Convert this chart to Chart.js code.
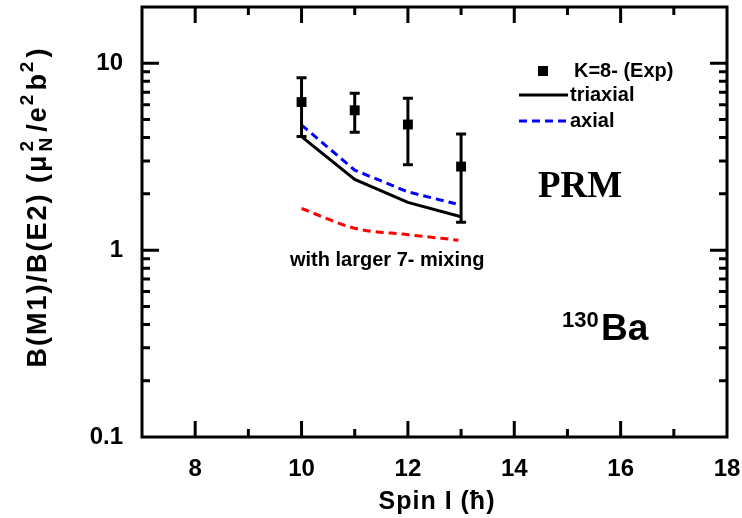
<!DOCTYPE html>
<html>
<head>
<meta charset="utf-8">
<script src="https://cdn.jsdelivr.net/npm/chart.js@4.4.1/dist/chart.umd.min.js"></script>
<style>
  html, body { margin: 0; padding: 0; background: #ffffff; }
</style>
</head>
<body>
<canvas id="chart" width="742" height="518"></canvas>
<script>
// experimental K=8- band
const spins = [10, 11, 12, 13];
const expValues = [6.2, 5.6, 4.7, 2.8];
const expErrLow = [4.05, 4.27, 2.86, 1.41];
const expErrHigh = [8.37, 6.9, 6.5, 4.18];

// PRM calculations
const triaxialSpins = [10, 11, 12, 13];
const triaxial = [4.05, 2.39, 1.80, 1.51];
const axialSpins = [10, 11, 12, 12.9];
const axial = [4.67, 2.68, 2.05, 1.77];
const mixingSpins = [10, 11, 12, 12.95];
const mixing = [1.67, 1.31, 1.21, 1.13];

const xTickLabels = [8, 10, 12, 14, 16, 18];
const yTickLabels = [0.1, 1, 10];

const FONT = `"Liberation Sans", Arial, sans-serif`;
const toPoints = (xs, ys) => xs.map((x, i) => ({x, y: ys[i]}));

const framePlugin = {
  id: `frame`,
  afterDatasetsDraw(chart) {
    const {ctx, chartArea: a, scales: {x, y}} = chart;
    ctx.save();
    ctx.strokeStyle = `#000000`;
    ctx.lineWidth = 3;

    // error bars
    spins.forEach((s, i) => {
      const px = x.getPixelForValue(s);
      const lo = y.getPixelForValue(expErrLow[i]);
      const hi = y.getPixelForValue(expErrHigh[i]);
      ctx.beginPath();
      ctx.moveTo(px, lo);
      ctx.lineTo(px, hi);
      ctx.moveTo(px - 5, lo);
      ctx.lineTo(px + 5, lo);
      ctx.moveTo(px - 5, hi);
      ctx.lineTo(px + 5, hi);
      ctx.stroke();
    });

    // frame
    ctx.beginPath();
    ctx.rect(a.left, a.top, a.right - a.left, a.bottom - a.top);
    ctx.stroke();

    // x ticks, bottom and top
    ctx.beginPath();
    for (let v = 8; v < 18; v++) {
      const px = x.getPixelForValue(v);
      const len = v % 2 === 0 ? 16 : 8;
      ctx.moveTo(px, a.bottom);
      ctx.lineTo(px, a.bottom - len);
      ctx.moveTo(px, a.top);
      ctx.lineTo(px, a.top + len);
    }
    // y ticks, left and right
    [-1, 0, 1].forEach((d) => {
      for (let m = 1; m <= 9; m++) {
        const v = m * Math.pow(10, d);
        if (v >= 20 || (d === -1 && m === 1)) {
          continue;
        }
        const py = y.getPixelForValue(v);
        const len = m === 1 ? 17 : 8;
        ctx.moveTo(a.left, py);
        ctx.lineTo(a.left + len, py);
        ctx.moveTo(a.right, py);
        ctx.lineTo(a.right - len, py);
      }
    });
    ctx.stroke();

    // legend
    ctx.fillStyle = `#000000`;
    ctx.fillRect(538, 66, 10, 10);
    ctx.beginPath();
    ctx.moveTo(519, 95);
    ctx.lineTo(568, 95);
    ctx.stroke();
    ctx.strokeStyle = `#0000ff`;
    ctx.setLineDash([8, 5]);
    ctx.beginPath();
    ctx.moveTo(519, 121);
    ctx.lineTo(568, 121);
    ctx.stroke();
    ctx.setLineDash([]);

    ctx.font = `bold 20px ${FONT}`;
    ctx.textBaseline = `middle`;
    ctx.textAlign = `left`;
    ctx.fillText(`K=8- (Exp)`, 574, 71);
    ctx.fillText(`triaxial`, 570, 95);
    ctx.fillText(`axial`, 570, 121);

    ctx.textBaseline = `alphabetic`;
    ctx.fillText(`with larger 7- mixing`, 290, 266);

    ctx.font = `bold 37px "Liberation Serif", "Times New Roman", serif`;
    ctx.textAlign = `center`;
    ctx.fillText(`PRM`, 580, 197);

    ctx.textAlign = `left`;
    ctx.font = `bold 22px ${FONT}`;
    ctx.fillText(`130`, 562, 327);
    ctx.font = `bold 37px ${FONT}`;
    ctx.fillText(`Ba`, 601, 340);

    // axis titles
    ctx.font = `bold 25px ${FONT}`;
    ctx.letterSpacing = `1px`;
    ctx.textAlign = `center`;
    ctx.fillText(`Spin I (ħ)`, 437, 509);

    const parts = [
      {t: `B(M1)/B(E2)`, size: 27, dy: 0},
      {t: ` (μ`, size: 27, dy: 0, gap: 2},
      {t: `N`, size: 19, dy: 6, stack: `2`, gap: 4},
      {t: `/e`, size: 27, dy: 0},
      {t: `2`, size: 19, dy: -13, gap: 2},
      {t: `b`, size: 27, dy: 0},
      {t: `2`, size: 19, dy: -13, gap: 2},
      {t: `)`, size: 27, dy: 0},
    ];
    ctx.letterSpacing = `2px`;
    let total = 0;
    parts.forEach((p) => {
      ctx.font = `bold ${p.size}px ${FONT}`;
      p.w = ctx.measureText(p.t).width + (p.gap || 0);
      total += p.w;
    });
    ctx.translate(46, 207 + total / 2);
    ctx.rotate(-Math.PI / 2);
    ctx.textAlign = `left`;
    let cx = 0;
    parts.forEach((p) => {
      ctx.font = `bold ${p.size}px ${FONT}`;
      ctx.fillText(p.t, cx, p.dy);
      if (p.stack) {
        ctx.fillText(p.stack, cx, -13);
      }
      cx += p.w;
    });
    ctx.restore();
  }
};

new Chart(document.getElementById(`chart`), {
  type: `scatter`,
  plugins: [framePlugin],
  data: {
    datasets: [
      {
        data: toPoints(triaxialSpins, triaxial),
        showLine: true,
        borderColor: `#000000`,
        borderWidth: 3,
        pointRadius: 0,
        tension: 0,
      },
      {
        data: toPoints(axialSpins, axial),
        showLine: true,
        borderColor: `#0000ff`,
        borderWidth: 3,
        borderDash: [8, 5],
        pointRadius: 0,
        tension: 0,
      },
      {
        data: toPoints(mixingSpins, mixing),
        showLine: true,
        borderColor: `#ff0000`,
        borderWidth: 3,
        borderDash: [8, 5],
        pointRadius: 0,
        cubicInterpolationMode: `monotone`,
      },
      {
        data: toPoints(spins, expValues),
        showLine: false,
        pointStyle: `rect`,
        pointRadius: 7,
        backgroundColor: `#000000`,
        borderWidth: 0,
      },
    ]
  },
  options: {
    responsive: false,
    animation: false,
    devicePixelRatio: 1,
    layout: {
      padding: {left: 0, top: 7, right: 15, bottom: 0}
    },
    plugins: {
      legend: {display: false},
      tooltip: {enabled: false},
    },
    scales: {
      x: {
        type: `linear`,
        min: 7,
        max: 18,
        afterFit: (s) => {
          s.height = 81;
          s.paddingLeft = 0;
          s.paddingRight = 0;
        },
        grid: {display: false, drawTicks: false},
        border: {display: false},
        ticks: {
          stepSize: 1,
          autoSkip: false,
          maxRotation: 0,
          padding: 18,
          color: `#000000`,
          font: {family: FONT, size: 24, weight: `bold`},
          callback: (v) => xTickLabels.includes(v) ? String(v) : ``,
        },
      },
      y: {
        type: `logarithmic`,
        min: 0.1,
        max: 20,
        afterFit: (s) => {
          s.width = 142;
          s.paddingTop = 0;
          s.paddingBottom = 0;
        },
        grid: {display: false, drawTicks: false},
        border: {display: false},
        ticks: {
          autoSkip: false,
          padding: 19,
          color: `#000000`,
          font: {family: FONT, size: 24, weight: `bold`},
          callback: (v) => {
            const hit = yTickLabels.find((t) => Math.abs(t - v) < 1e-9);
            return hit === undefined ? `` : String(hit);
          },
        },
      },
    }
  }
});
</script>
</body>
</html>
